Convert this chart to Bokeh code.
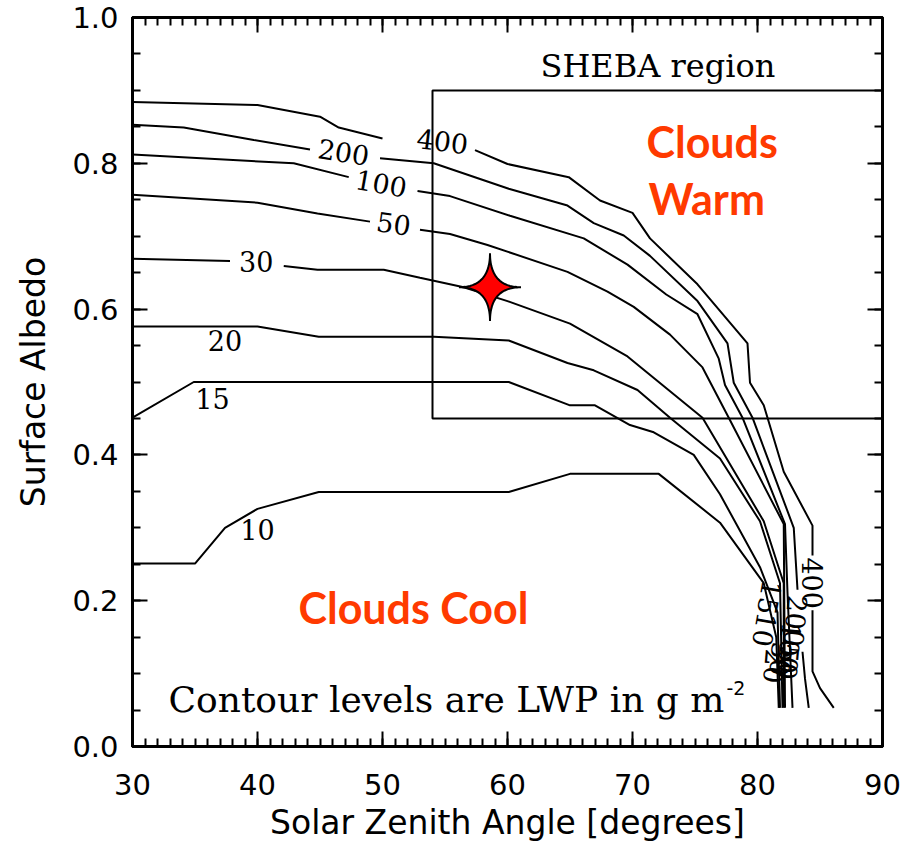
import math
from bokeh.plotting import figure
from bokeh.models import (LinearAxis, SingleIntervalTicker, PrintfTickFormatter, Range1d, Label,
                          CustomLabelingPolicy)
from bokeh.embed import file_html
from bokeh.resources import INLINE

nan = float("nan")

# ---------------- data ----------------
# Contours of liquid water path (g m^-2); NaN = gap where a label sits
lwp400_x = [30, 40, 45, 46.5, 50, nan, 57.4, 60, 64.9, 67.4, 70, 71.4, 75.2, 79.2, 79.4, 80.5, 82.1, 84.4, 84.4, nan, 84.4, 84.4, 85.0, 86.1]
lwp400_y = [0.884, 0.880, 0.864, 0.849, 0.834, nan, 0.818, 0.799, 0.781, 0.749, 0.732, 0.697, 0.634, 0.553, 0.499, 0.468, 0.377, 0.303, 0.262, nan, 0.187, 0.103, 0.080, 0.053]

lwp200_x = [30, 34.1, 39.7, 44.2, nan, 49.8, 54.1, 60.1, 64.8, 66.9, 69.3, 71.4, 75.2, 77.6, 78.1, 79.6, 82.9, 83.2, nan, 83.6, 83.8, 84.1]
lwp200_y = [0.853, 0.849, 0.832, 0.819, nan, 0.807, 0.800, 0.765, 0.742, 0.718, 0.701, 0.673, 0.611, 0.553, 0.499, 0.451, 0.300, 0.215, nan, 0.130, 0.093, 0.053]

lwp100_x = [30, 42.9, 47.3, nan, 52.8, 55.4, 60.2, 66.1, 69.6, 72.7, 75.2, 76.9, 77.4, 78.8, 82.2, 82.4, 82.8]
lwp100_y = [0.812, 0.800, 0.781, nan, 0.762, 0.755, 0.728, 0.697, 0.661, 0.620, 0.593, 0.532, 0.496, 0.451, 0.305, 0.211, 0.053]

lwp50_x = [30, 40, 44.8, 49.0, nan, 53.0, 55.4, 58.4, 64.8, 68.0, 70.1, 73.0, 75.6, 77.7, 82.1, 82.2]
lwp50_y = [0.757, 0.746, 0.731, 0.720, nan, 0.709, 0.703, 0.688, 0.651, 0.624, 0.603, 0.565, 0.520, 0.451, 0.305, 0.053]

lwp30_x = [30, 37.8, nan, 42.1, 44.8, 50.1, 53.0, 56.5, 60.0, 65.0, 69.6, 75.6, 80.5, 82.1, 82.1]
lwp30_y = [0.669, 0.666, nan, 0.659, 0.654, 0.654, 0.643, 0.630, 0.611, 0.580, 0.535, 0.451, 0.309, 0.224, 0.053]

lwp20_x = [30, 40, 44.9, 54.1, 60.1, 64.8, 66.9, 70.4, 73.0, 77.0, 80.2, 81.8, 82.0]
lwp20_y = [0.576, 0.576, 0.562, 0.562, 0.557, 0.526, 0.516, 0.489, 0.451, 0.395, 0.309, 0.224, 0.053]

lwp15_x = [30, 34.9, 60.1, 65.0, 67.0, 69.8, 71.7, 74.9, 77.0, 80.2, 81.6, 81.8]
lwp15_y = [0.451, 0.500, 0.500, 0.468, 0.468, 0.441, 0.431, 0.400, 0.346, 0.246, 0.184, 0.053]

lwp10_x = [30, 35, 37.4, 40, 44.9, 60.1, 65, 72.1, 77.0, 80.5, 81.5, 81.7]
lwp10_y = [0.251, 0.251, 0.300, 0.326, 0.349, 0.349, 0.374, 0.374, 0.307, 0.224, 0.150, 0.053]

contours_x = [lwp400_x, lwp200_x, lwp100_x, lwp50_x, lwp30_x, lwp20_x, lwp15_x, lwp10_x]
contours_y = [lwp400_y, lwp200_y, lwp100_y, lwp50_y, lwp30_y, lwp20_y, lwp15_y, lwp10_y]

# contour labels: text, x, y, angle (deg)
clabel_text = ["400", "200", "100", "50", "30", "20", "15", "10",
               "400", "200", "15", "10", "30", "50", "20", "100"]
clabel_x = [54.8, 46.9, 49.9, 50.9, 39.9, 37.4, 36.4, 40.0,
            84.4, 83.1, 81.0, 80.6, 81.9, 82.5, 81.4, 82.6]
clabel_y = [0.831, 0.816, 0.773, 0.718, 0.665, 0.557, 0.477, 0.297,
            0.224, 0.172, 0.204, 0.160, 0.120, 0.115, 0.110, 0.135]
clabel_angle = [-7, -9, -10, -8, 0, 0, 0, 0,
                -90, -95, -100, -100, -95, -95, -95, -95]

# SHEBA region box
sheba_x0, sheba_x1 = 54.0, 90.0
sheba_y0, sheba_y1 = 0.45, 0.90

# SHEBA observation (star)
star_x, star_y = 58.6, 0.630

x_ticks_interval = 10
y_ticks_interval = 0.2

# ---------------- figure ----------------
W, H = 906, 844
BL, BR, BT, BB = 132, 24, 17, 95
p = figure(width=W, height=H, x_range=Range1d(30, 90), y_range=Range1d(0, 1),
           output_backend="svg", toolbar_location=None,
           min_border_left=BL, min_border_right=BR, min_border_top=BT, min_border_bottom=BB)
p.grid.visible = False
p.outline_line_color = "black"
p.outline_line_width = 3
p.background_fill_color = "white"
p.border_fill_color = "white"

xt = SingleIntervalTicker(interval=x_ticks_interval, num_minor_ticks=10)
yt = SingleIntervalTicker(interval=y_ticks_interval, num_minor_ticks=4)


def style_axis(ax, label_size="29px"):
    ax.axis_line_color = "black"
    ax.axis_line_width = 3
    ax.major_tick_line_color = "black"
    ax.major_tick_line_width = 2
    ax.minor_tick_line_color = "black"
    ax.minor_tick_line_width = 2
    ax.major_tick_in = 15
    ax.major_tick_out = 0
    ax.minor_tick_in = 8
    ax.minor_tick_out = 0
    ax.major_label_text_color = "black"
    ax.major_label_text_font = "DejaVu Sans"
    ax.major_label_text_font_size = label_size
    ax.axis_label_text_color = "black"
    ax.axis_label_text_font = "DejaVu Sans"
    ax.axis_label_text_font_size = "33px"
    ax.axis_label_text_font_style = "normal"


p.xaxis.ticker = xt
p.yaxis.ticker = yt
p.yaxis.formatter = PrintfTickFormatter(format="%.1f")
style_axis(p.xaxis[0])
style_axis(p.yaxis[0])
p.xaxis.axis_label = "Solar Zenith Angle [degrees]"
p.yaxis.axis_label = "Surface Albedo"
p.xaxis.major_label_standoff = 27
p.xaxis.axis_label_standoff = 5
p.yaxis.major_label_standoff = 14
p.yaxis.axis_label_standoff = 16

# mirrored axes on top and right: ticks only, no labels
for tk, loc in ((xt, "above"), (yt, "right")):
    ax = LinearAxis(ticker=tk, major_label_standoff=0,
                    major_label_policy=CustomLabelingPolicy(code="return []"))
    style_axis(ax, label_size="0px")
    p.add_layout(ax, loc)

# contours
for cx, cy in zip(contours_x, contours_y):
    p.line(cx, cy, line_color="black", line_width=2)

# SHEBA box
p.line([sheba_x1, sheba_x0, sheba_x0, sheba_x1], [sheba_y1, sheba_y1, sheba_y0, sheba_y0],
       line_color="black", line_width=2)

# contour labels
for t, lx, ly, la in zip(clabel_text, clabel_x, clabel_y, clabel_angle):
    p.add_layout(Label(x=lx, y=ly, text=t, angle=math.radians(la), text_align="center",
                       text_baseline="middle", text_font="DejaVu Serif",
                       text_font_size="27px", text_color="black"))

# pixel <-> data helpers for annotation placement
fw, fh = W - BL - BR, H - BT - BB
dx_px = 60.0 / fw
dy_px = 1.0 / fh


def ydata(py):
    return (H - BB - py) / fh


def xdata(px):
    return 30 + (px - BL) * dx_px


# texts (anchored at the middle of the capitals)
p.add_layout(Label(x=xdata(540), y=ydata(66), text="SHEBA region", text_font="DejaVu Serif",
                   text_font_size="32px", text_color="black", text_baseline="middle"))
p.add_layout(Label(x=xdata(168), y=ydata(702), text="Contour levels are LWP in g m",
                   text_font="DejaVu Serif", text_font_size="36px", text_color="black",
                   text_baseline="middle"))
p.add_layout(Label(x=xdata(726), y=ydata(690), text="-2", text_font="DejaVu Sans",
                   text_font_size="19px", text_color="black", text_baseline="middle"))

red = "#FF3A00"
for t, px, py in (("Clouds", 646, 142), ("Warm", 648, 199), ("Clouds Cool", 298, 609)):
    p.add_layout(Label(x=xdata(px), y=ydata(py), text=t, text_font="Lato", text_font_style="bold",
                       text_font_size="43px", text_color=red, text_baseline="middle"))

# four-pointed concave star around the observation point (shape sized in pixels)
a_px, b_px, n_exp = 31.0, 34.0, 0.5
star_xs, star_ys = [], []
for i in range(96):
    t = 2 * math.pi * i / 96
    c, s = math.cos(t), math.sin(t)
    ex = math.copysign(abs(c) ** (2 / n_exp), c)
    ey = math.copysign(abs(s) ** (2 / n_exp), s)
    star_xs.append(star_x + a_px * ex * dx_px)
    star_ys.append(star_y + b_px * ey * dy_px)
p.patch(star_xs, star_ys, fill_color="#FF0000", line_color="black", line_width=2)

open("out.html", "w").write(file_html(p, INLINE))
